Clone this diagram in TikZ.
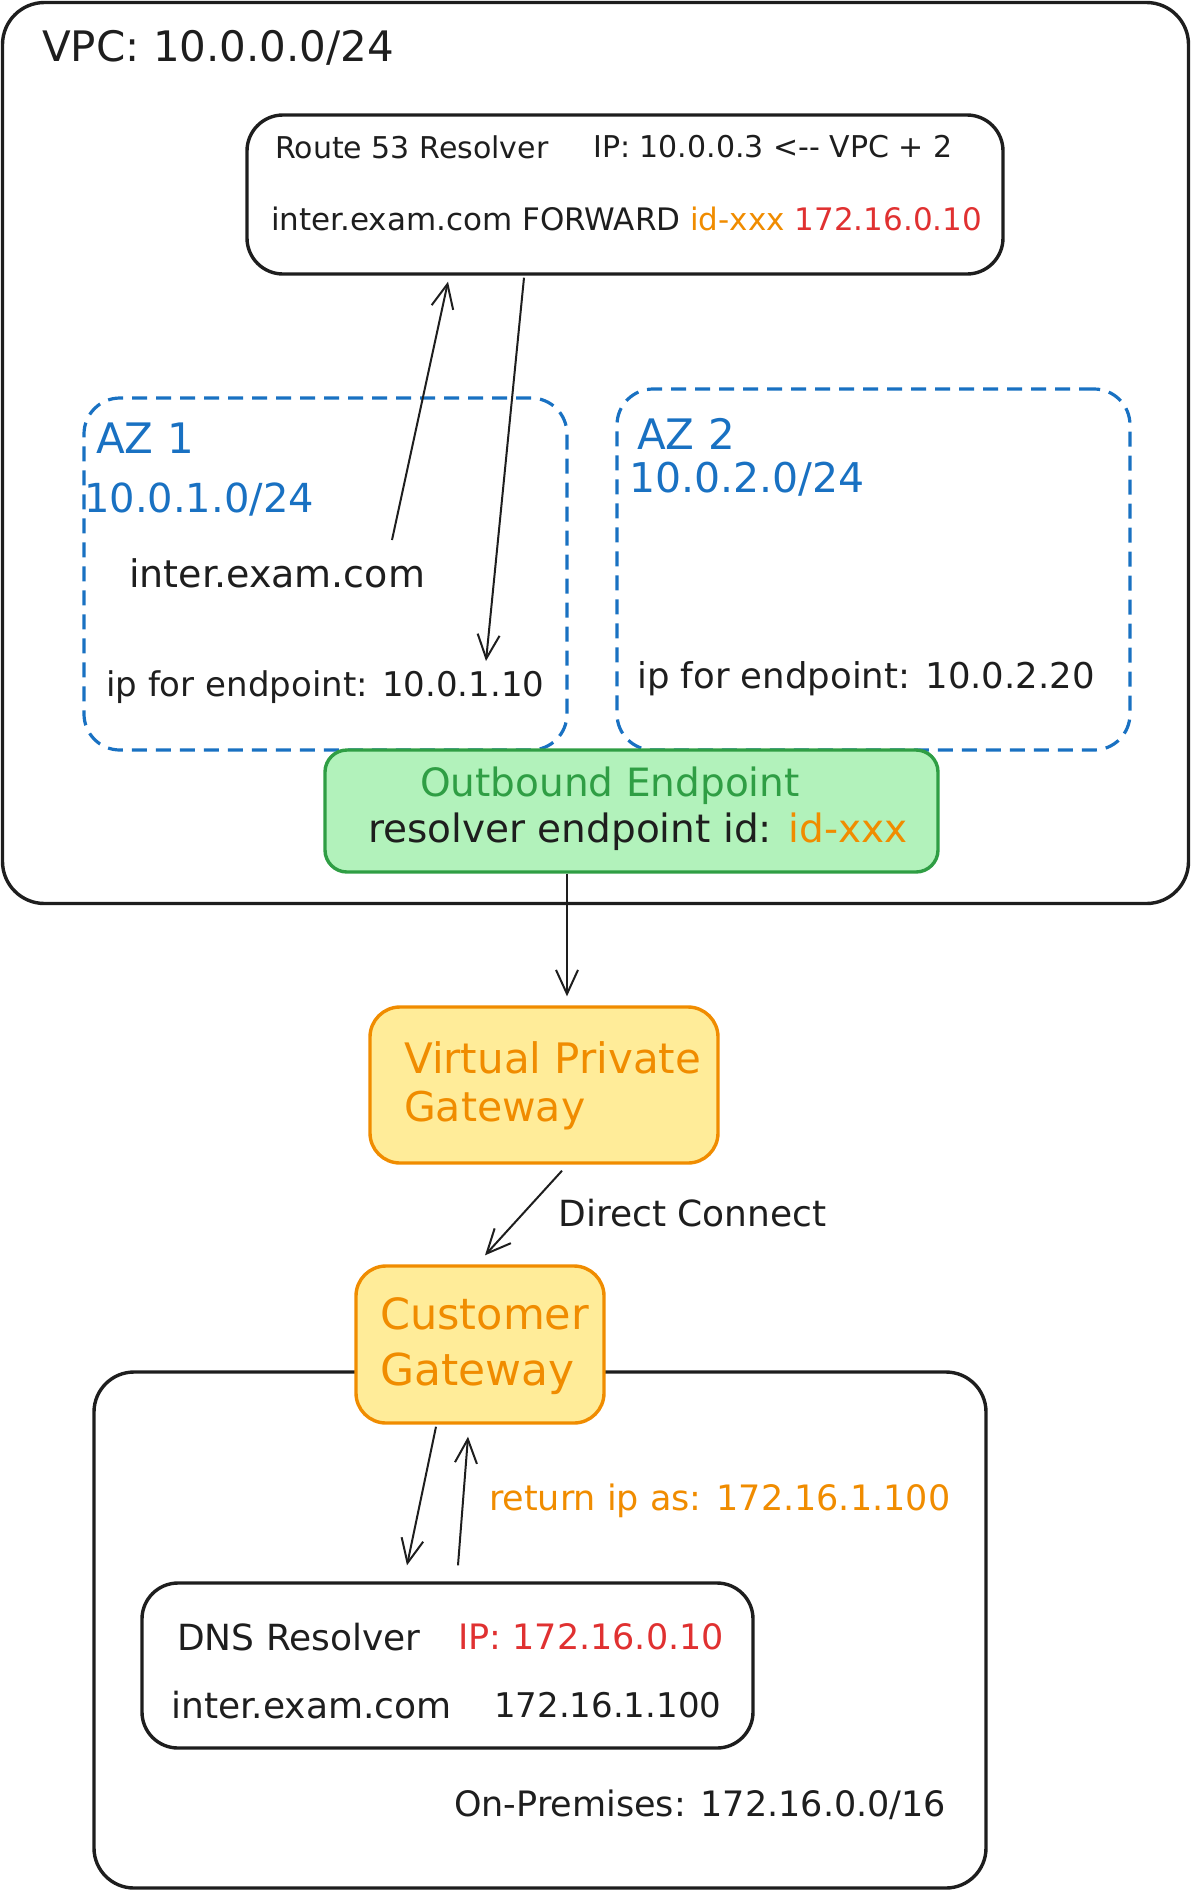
\documentclass[tikz,border=0pt]{standalone}
\usepackage{fontspec}
\setmainfont{DejaVu Sans}
\usetikzlibrary{arrows.meta}

\definecolor{exInk}{HTML}{1E1E1E}
\definecolor{exOrange}{HTML}{F08C00}
\definecolor{exRed}{HTML}{E03131}
\definecolor{exBlue}{HTML}{1971C2}
\definecolor{exGreen}{HTML}{2F9E44}
\definecolor{exGreenFill}{HTML}{B2F2BB}
\definecolor{exYellowFill}{HTML}{FFEC99}

\newcommand{\fsz}[1]{\fontsize{#1}{#1}\selectfont}

\begin{document}
\begin{tikzpicture}[x=1pt,y=-1pt,line join=round,
  box/.style={draw=exInk,line width=3.4pt,rounded corners=36pt,inner sep=0pt},
  zone/.style={draw=exBlue,line width=3.2pt,dash pattern=on 15pt off 9pt,rounded corners=36pt,inner sep=0pt},
  gwbox/.style={draw=exOrange,fill=exYellowFill,line width=3.4pt,rounded corners=30pt,inner sep=0pt},
  txt/.style={anchor=west,inner sep=0pt,text=exInk},
  arr/.style={draw=exInk,line width=2pt,-{Straight Barb[length=24pt,width=22pt]}},
]
\useasboundingbox (0,0) rectangle (1191,1891);

% containers
\node[box,rounded corners=42pt,minimum width=1186pt,minimum height=901pt] (vpc) at (595.5,453) {};
\node[box,minimum width=756pt,minimum height=159pt] (r53) at (625,194.5) {};
\node[zone,minimum width=483pt,minimum height=352pt] (az1) at (325.5,574) {};
\node[zone,minimum width=513pt,minimum height=361pt] (az2) at (873.5,569.5) {};
\node[box,draw=exGreen,fill=exGreenFill,rounded corners=22pt,minimum width=613pt,minimum height=122pt] (ob) at (631.5,811) {};
\node[box,rounded corners=40pt,minimum width=892pt,minimum height=516pt] (onprem) at (540,1630) {};
\node[gwbox,minimum width=348pt,minimum height=156pt] (vgw) at (544,1085) {};
\node[gwbox,minimum width=248pt,minimum height=157pt] (cgw) at (480,1344.5) {};
\node[box,minimum width=611pt,minimum height=165pt] (dns) at (447.5,1665.5) {};

% texts
\node[txt,font=\fsz{42}] (vpcname) at (42,48) {VPC: 10.0.0.0/24};
\node[txt,font=\fsz{30}] (r53name) at (275,147) {Route 53 Resolver};
\node[txt,font=\fsz{30}] (r53ip) at (593,147) {IP: 10.0.0.3 <-{}- VPC + 2};
\node[txt,font=\fsz{31}] (r53rule) at (271,219) {inter.exam.com FORWARD \textcolor{exOrange}{id-xxx} \textcolor{exRed}{172.16.0.10}};

\node[txt,font=\fsz{42},text=exBlue] (az1name) at (96,438) {AZ 1};
\node[txt,font=\fsz{40},text=exBlue] (az1cidr) at (84,500) {10.0.1.0/24};
\node[txt,font=\fsz{38}] (az1host) at (129,573) {inter.exam.com};
\node[txt,font=\fsz{34}] (az1ip) at (106,687) {ip for endpoint: 10.0.1.10};

\node[txt,font=\fsz{42},text=exBlue] (az2name) at (637,434) {AZ 2};
\node[txt,font=\fsz{41},text=exBlue] (az2cidr) at (629,479) {10.0.2.0/24};
\node[txt,font=\fsz{35.5}] (az2ip) at (637,679) {ip for endpoint: 10.0.2.20};

\node[txt,font=\fsz{39},text=exGreen] (obname) at (420,786) {Outbound Endpoint};
\node[txt,font=\fsz{39}] (obid) at (368,832) {resolver endpoint id: \textcolor{exOrange}{id-xxx}};

\node[txt,font=\fsz{42},text=exOrange] (vgwline1) at (404,1058) {Virtual Private};
\node[txt,font=\fsz{41},text=exOrange] (vgwline2) at (404,1111) {Gateway};
\node[txt,font=\fsz{43},text=exOrange] (cgwline1) at (380,1314) {Customer};
\node[txt,font=\fsz{44},text=exOrange] (cgwline2) at (380,1374) {Gateway};

\node[txt,font=\fsz{36}] (dnsname) at (177,1637) {DNS Resolver};
\node[txt,font=\fsz{35},text=exRed] (dnsip) at (458,1637) {IP: 172.16.0.10};
\node[txt,font=\fsz{36}] (dnshost) at (171,1705) {inter.exam.com};
\node[txt,font=\fsz{34}] (dnsaddr) at (494,1705) {172.16.1.100};
\node[txt,font=\fsz{35}] (onpremname) at (454,1805) {On-Premises: 172.16.0.0/16};

% connectors
\coordinate (queryfrom) at (392,540);
\coordinate (forwardto) at (486,661);
\draw[arr] (queryfrom) -- ([xshift=-177pt,yshift=-6pt]r53.south);
\draw[arr] ([xshift=-101pt,yshift=-2pt]r53.south) -- (forwardto);
\draw[arr] ([xshift=-64.5pt]ob.south) -- ([xshift=23pt,yshift=9pt]vgw.north);
\draw[arr] ([xshift=18pt,yshift=-6pt]vgw.south) -- ([xshift=5pt,yshift=9pt]cgw.north)
  node[txt,midway,xshift=34pt,font=\fsz{36}] (dclabel) {Direct Connect};
\draw[arr] ([xshift=-44pt,yshift=-2pt]cgw.south) -- ([xshift=-40.5pt,yshift=16pt]dns.north);
\draw[arr] ([xshift=10.5pt,yshift=16pt]dns.north) -- ([xshift=-12pt,yshift=-12pt]cgw.south)
  node[txt,midway,xshift=25pt,font=\fsz{35},text=exOrange] (retlabel) {return ip as: 172.16.1.100};

\end{tikzpicture}
\end{document}
